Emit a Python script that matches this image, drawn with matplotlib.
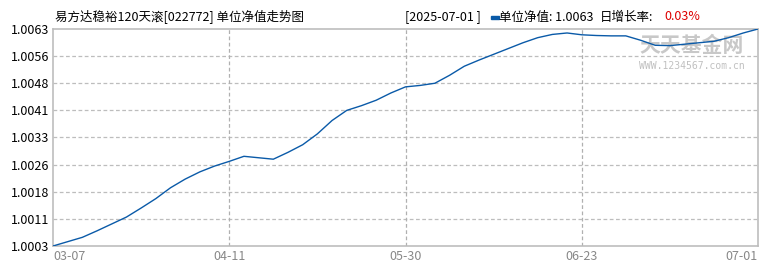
import matplotlib
matplotlib.use("Agg")
import matplotlib.pyplot as plt
from matplotlib.ticker import FixedLocator

plt.rcParams['font.family'] = ['Noto Sans CJK SC', 'DejaVu Sans']

title = "易方达稳裕120天滚[022772] 单位净值走势图"
date_label = "[2025-07-01 ]"
nav_label = "单位净值: 1.0063"
rate_label = "日增长率:"
rate_value = "0.03%"

nav = [1.00030, 1.00042, 1.00054, 1.00072, 1.00091, 1.00110, 1.00135, 1.00161,
       1.00191, 1.00215, 1.00235, 1.00251, 1.00264, 1.00278, 1.00274, 1.00270,
       1.00289, 1.00310, 1.00340, 1.00377, 1.00405, 1.00418, 1.00433, 1.00453,
       1.00470, 1.00474, 1.00480, 1.00502, 1.00527, 1.00544, 1.00560, 1.00576,
       1.00592, 1.00606, 1.00615, 1.00619, 1.00614, 1.00612, 1.00611, 1.00611,
       1.00599, 1.00585, 1.00584, 1.00588, 1.00592, 1.00596, 1.00606, 1.00619,
       1.00630]
x_tick_pos = [0, 12, 24, 36, 48]
x_tick_labels = ["03-07", "04-11", "05-30", "06-23", "07-01"]
y_ticks = [1.0003, 1.00105, 1.0018, 1.00255, 1.0033, 1.00405, 1.0048, 1.00555, 1.0063]
y_tick_labels = ["1.0003", "1.0011", "1.0018", "1.0026", "1.0033", "1.0041",
                 "1.0048", "1.0056", "1.0063"]

W, H = 770, 270
fig = plt.figure(figsize=(W / 100, H / 100), dpi=100)
ax = fig.add_axes([53 / W, 1 - 246 / H, (758 - 53) / W, (246 - 29) / H])

line_color = '#0a5aa8'
grid_color = '#bdbdbd'

x = list(range(len(nav)))
ax.plot(x, nav, color=line_color, lw=1.0, zorder=3)
ax.set_xlim(0, len(nav) - 1)
ax.set_ylim(y_ticks[0], y_ticks[-1])

ax.yaxis.set_major_locator(FixedLocator(y_ticks))
ax.set_yticklabels(y_tick_labels)
ax.xaxis.set_major_locator(FixedLocator(x_tick_pos))
ax.set_xticklabels(x_tick_labels)
ax.tick_params(axis='both', length=0)
ax.tick_params(axis='y', labelsize=9, colors='black', pad=3)
ax.tick_params(axis='x', labelsize=9, colors='#888888', pad=3)
xl = ax.get_xticklabels()
xl[0].set_ha('left')
xl[-1].set_ha('right')

for yv in y_ticks[1:-1]:
    ax.axhline(yv, color=grid_color, lw=0.9, ls=(0, (3, 2)), zorder=1)
for xv in x_tick_pos[1:-1]:
    ax.axvline(xv, color='#b0b0b0', lw=0.9, ls=(0, (3, 2)), zorder=1)

for s in ax.spines.values():
    s.set_color(grid_color)
    s.set_linewidth(1.2)

# watermark
ax.text(0.906, 0.925, "天天基金网", transform=ax.transAxes, fontsize=15,
        fontweight='bold', color='#c8c8c8', ha='center', va='center', zorder=2)
ax.text(0.906, 0.828, "WWW.1234567.com.cn", transform=ax.transAxes, fontsize=7,
        family='DejaVu Sans Mono', color='#c0c0c0', ha='center', va='center', zorder=2)

# header texts
ty = 1 - 17 / H
fig.text(55 / W, ty, title, fontsize=9, color='black', ha='left', va='center')
fig.text(405 / W, ty, date_label, fontsize=9, color='black', ha='left', va='center')
fig.patches.append(plt.Rectangle((491 / W, 1 - 18.5 / H), 8 / W, 3 / H,
                                 transform=fig.transFigure, color=line_color))
fig.text(499 / W, ty, nav_label, fontsize=9, color='black', ha='left', va='center')
fig.text(600 / W, ty, rate_label, fontsize=9, color='black', ha='left', va='center')
fig.text(664 / W, ty, rate_value, fontsize=9, color='#dd0000', ha='left', va='center')

fig.savefig("out.png", dpi=100)
